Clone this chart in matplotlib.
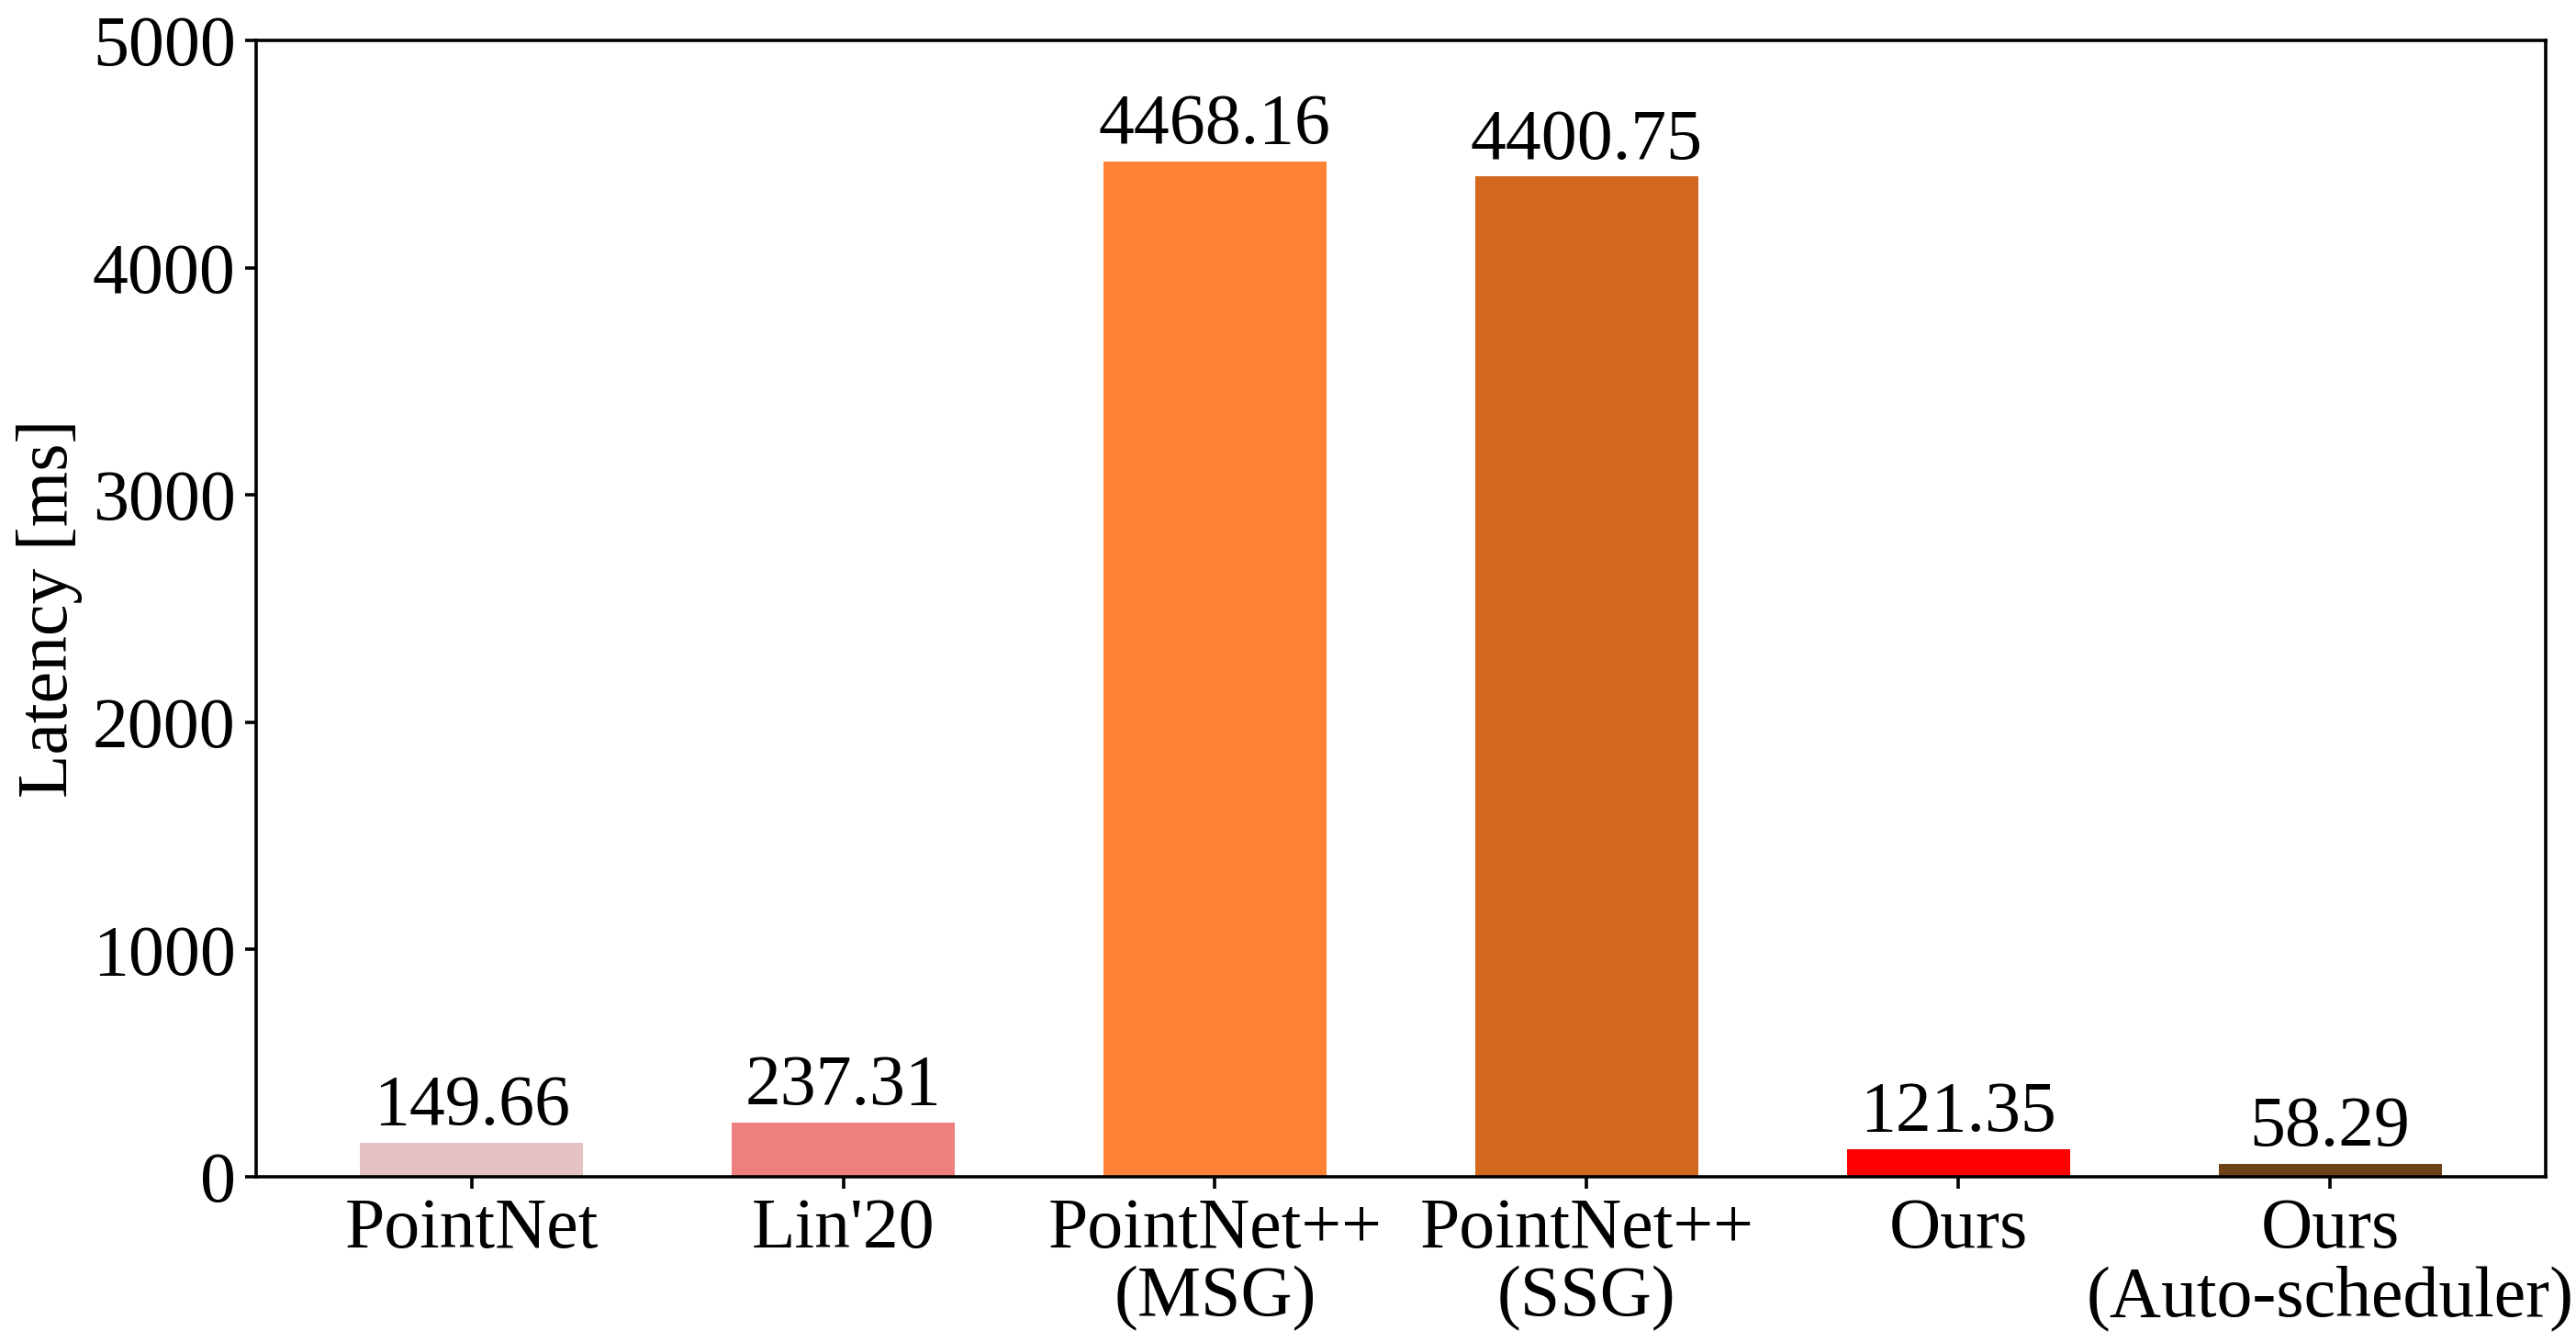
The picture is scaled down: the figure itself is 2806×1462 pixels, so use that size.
import numpy as np
import matplotlib as mpl
import matplotlib.pyplot as plt

#Datos
metodos=['PointNet', "Lin'20", 'PointNet++\n(MSG)', 'PointNet++\n(SSG)', 'Ours', 'Ours\n(Auto-scheduler)']
latencia=[149.66, 237.31, 4468.16, 4400.75, 121.35, 58.29]
etiquetas=['149.66', '237.31', '4468.16', '4400.75', '121.35', '58.29']
colores=['#E5C3C3', '#EF7F7F', '#FE8134', '#D3691F', '#FF0000', '#6E4117']

#--------------------------------
#Gráfica
params = {'font.family': ['Liberation Serif', 'DejaVu Serif'], 'font.size': 28,
          'xtick.labelsize': 28, 'ytick.labelsize': 28, 'axes.linewidth': 1.3}
mpl.rcParams.update(params)

fig=plt.figure(figsize=[14.03, 7.31], dpi=200)
ax=fig.add_axes((0.0994, 0.1231, 0.9882-0.0994, 0.9699-0.1231))

x=np.arange(len(metodos))
barras=ax.bar(x, latencia, width=0.6, color=colores)
ax.bar_label(barras, labels=etiquetas, padding=1, fontsize=28)

ax.set_xticks(x)
ax.set_xticklabels(metodos, linespacing=1.05)
ax.set_ylim(0, 5000)
ax.set_yticks([0, 1000, 2000, 3000, 4000, 5000])
ax.tick_params(width=1.3, length=4.5)
ax.set_ylabel('Latency [ms]')

fig.savefig('out.png', dpi=200)
